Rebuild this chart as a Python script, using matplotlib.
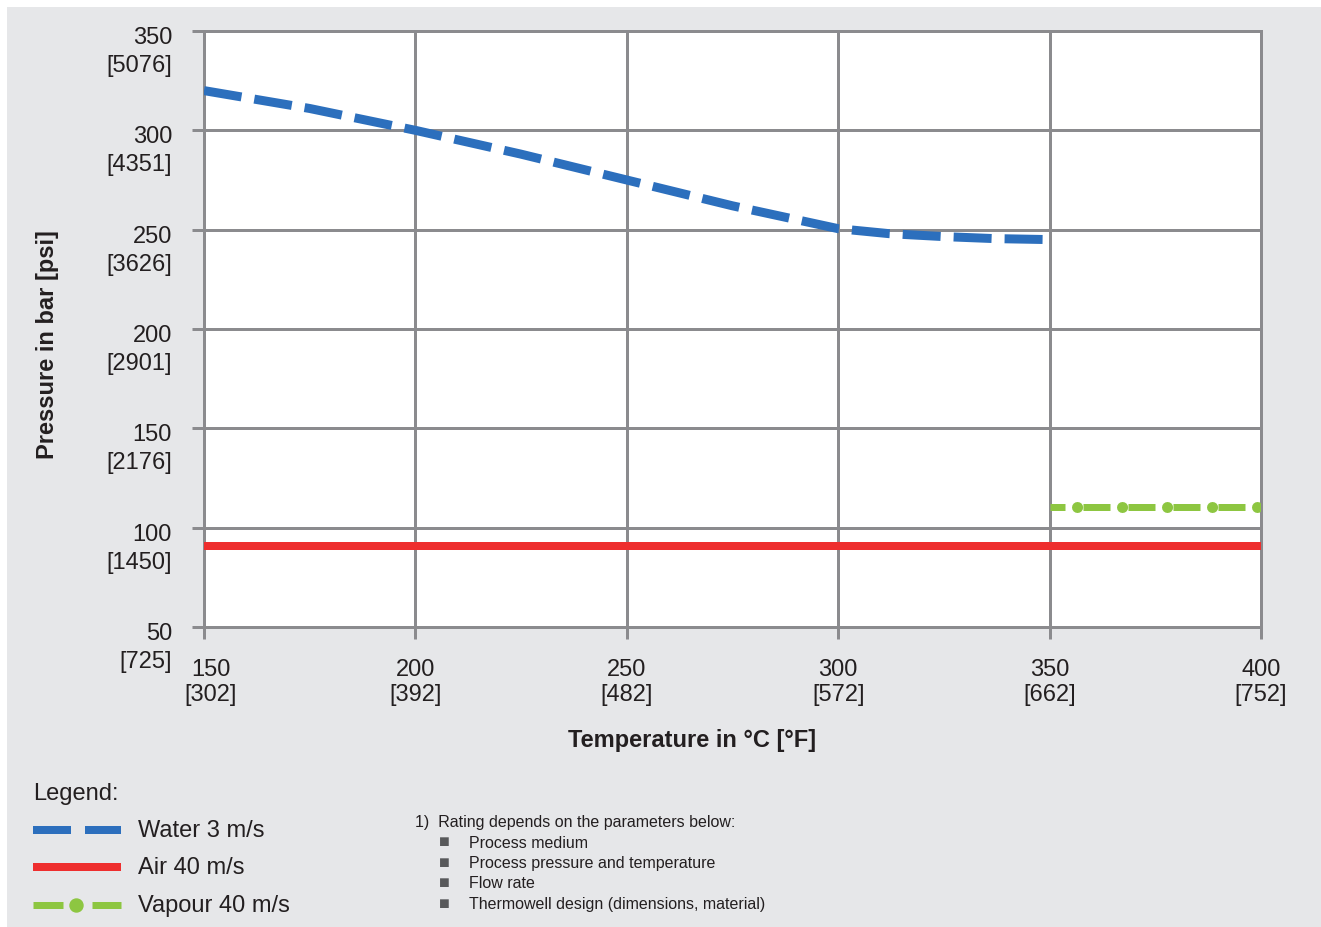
import matplotlib
matplotlib.use('Agg')
import matplotlib.pyplot as plt
from matplotlib.lines import Line2D
from matplotlib.patches import Rectangle

# data
temp_c = [150, 200, 250, 300, 350, 400]
temp_f = [302, 392, 482, 572, 662, 752]
bar_ticks = [50, 100, 150, 200, 250, 300, 350]
psi_ticks = [725, 1450, 2176, 2901, 3626, 4351, 5076]

water_t = [150, 175, 200, 225, 250, 275, 300, 312, 325, 337, 350]
water_p = [320, 311, 300, 288, 275, 262, 250.5, 248, 246.5, 245.5, 245]
air_t = [150, 400]
air_p = [91, 91]
vapour_t = [350, 400]
vapour_p = [110.5, 110.5]

series = ["Water 3 m/s", "Air 40 m/s", "Vapour 40 m/s"]
notes = ["Process medium", "Process pressure and temperature",
         "Flow rate", "Thermowell design (dimensions, material)"]

BLUE = '#2c6fbd'
RED = '#ee2e2e'
GREEN = '#8dc641'
GRID = '#8b8b8e'
TEXT = '#231f20'
BG = '#e6e7e9'
PX = 0.72  # points per pixel at dpi 100

plt.rcParams['font.family'] = ['Liberation Sans', 'DejaVu Sans']
plt.rcParams['lines.scale_dashes'] = False
plt.rcParams['text.color'] = TEXT

W, H = 1321, 928
fig = plt.figure(figsize=(W / 100, H / 100), dpi=100, facecolor='white')
fig.patches.append(Rectangle((7 / W, 0), 1, 1 - 8 / H, transform=fig.transFigure,
                             facecolor=BG, edgecolor='none', zorder=-10))

ax = fig.add_axes([204 / W, 1 - 628 / H, (1261 - 204) / W, (628 - 32) / H])
ax.set_facecolor('white')
ax.set_xlim(150, 400)
ax.set_ylim(50, 350)

ax.plot(water_t, water_p, color=BLUE, lw=9 * PX,
        linestyle=(0, (38 * PX, 13 * PX)), zorder=3)
ax.plot(air_t, air_p, color=RED, lw=8 * PX, solid_capstyle='butt', zorder=3)
ax.plot(vapour_t, vapour_p, color=GREEN, lw=7 * PX,
        linestyle=(12 * PX, (27 * PX, 18 * PX)), zorder=3)
ax.plot(vapour_t, vapour_p, color=GREEN, lw=11 * PX, dash_capstyle='round',
        linestyle=(18 * PX, (0.1, 45 * PX - 0.1)), zorder=3)

ax.set_xticks(temp_c)
ax.set_yticks(bar_ticks)
ax.set_xticklabels([])
ax.set_yticklabels([])
ax.grid(True, color=GRID, lw=3 * PX, zorder=1)
ax.set_axisbelow(True)
ax.tick_params(length=12 * PX, width=3 * PX, color=GRID)
for s in ax.spines.values():
    s.set_color(GRID)
    s.set_linewidth(3 * PX)

# two-line tick labels, baseline of the last line is used
for b, p in zip(bar_ticks, psi_ticks):
    ax.annotate("%d\n[%d]" % (b, p), xy=(0, b), xycoords=('axes fraction', 'data'),
                xytext=(-32, -40), textcoords='offset pixels',
                ha='right', va='baseline', fontsize=17, linespacing=1.36)
for i, (c, f) in enumerate(zip(temp_c, temp_f)):
    dx = 7 if i == 0 else 0
    ax.annotate("%d\n[%d]" % (c, f), xy=(c, 0), xycoords=('data', 'axes fraction'),
                xytext=(dx, -73), textcoords='offset pixels',
                ha='center', va='baseline', fontsize=17, linespacing=1.2)

fig.text(48 / W, 1 - 345 / H, "Pressure in bar [psi]", rotation=90,
         ha='center', va='center', fontsize=17, weight='bold')
fig.text(692 / W, 1 - 741 / H, "Temperature in °C [°F]",
         ha='center', va='center', fontsize=17, weight='bold')

# legend, drawn by hand
def fx(px):
    return px / W

def fy(px):
    return 1 - px / H

fig.text(fx(33), fy(794), "Legend:", ha='left', va='center', fontsize=17)
rows = [831, 868, 906]
fig.lines.append(Line2D([fx(33), fx(121)], [fy(rows[0])] * 2, transform=fig.transFigure,
                        color=BLUE, lw=8 * PX, linestyle=(0, (38 * PX, 14 * PX))))
fig.lines.append(Line2D([fx(33), fx(121)], [fy(rows[1])] * 2, transform=fig.transFigure,
                        color=RED, lw=8 * PX, solid_capstyle='butt'))
fig.lines.append(Line2D([fx(33), fx(63)], [fy(rows[2])] * 2, transform=fig.transFigure,
                        color=GREEN, lw=7 * PX, solid_capstyle='butt'))
fig.lines.append(Line2D([fx(92), fx(121)], [fy(rows[2])] * 2, transform=fig.transFigure,
                        color=GREEN, lw=7 * PX, solid_capstyle='butt'))
fig.lines.append(Line2D([fx(76)], [fy(rows[2])], transform=fig.transFigure,
                        color=GREEN, marker='o', markersize=13 * PX, linestyle='none'))
for r, name in zip(rows, series):
    fig.text(fx(138), fy(r), name, ha='left', va='center', fontsize=17)

fig.text(fx(415), fy(823), "1)  Rating depends on the parameters below:",
         ha='left', va='center', fontsize=11.5)
for i, n in enumerate(notes):
    y = fy(843 + i * 20.5)
    fig.text(fx(444), y, "■", ha='center', va='center', fontsize=13, color='#58595b')
    fig.text(fx(469), y, n, ha='left', va='center', fontsize=11.5)

fig.savefig("out.png", dpi=100, facecolor=fig.get_facecolor())
